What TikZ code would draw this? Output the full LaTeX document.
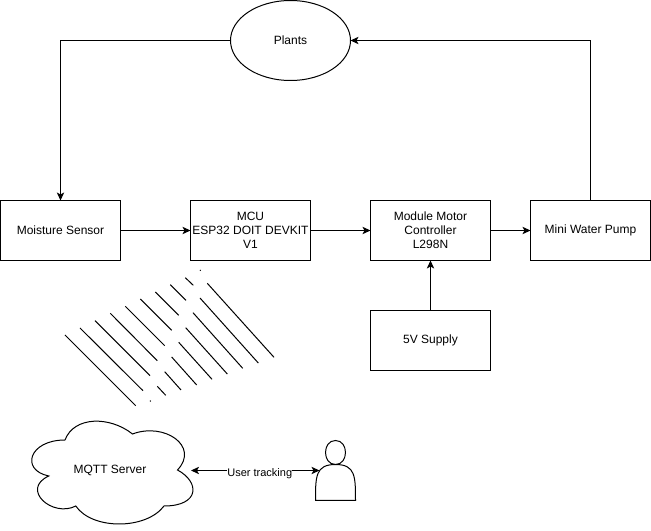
\documentclass[tikz,border=0pt]{standalone}
\usepackage{fontspec}
\setmainfont{Liberation Sans}
\usetikzlibrary{positioning,arrows.meta,shapes.geometric}

\begin{document}
\begin{tikzpicture}[x=.75pt,y=-.75pt,font=\fontsize{9}{10.5}\selectfont,line width=.75pt,
  >={Stealth[length=6pt,width=5.5pt,inset=1.5pt]},
  box/.style={draw,align=center,minimum width=90pt,minimum height=45pt,inner sep=0pt,outer sep=0pt}]
\useasboundingbox (0,0) rectangle (651,531);
\node[box] (sensor) at (60.5,230.5) {Moisture Sensor};
\node[box,right=52.5pt of sensor] (mcu) {MCU\\ESP32 DOIT DEVKIT\\V1};
\node[box,right=45pt of mcu] (module) {Module Motor\\Controller\\L298N};
\node[box,right=30pt of module] (pump) {Mini Water Pump};
\node[box,below=37.5pt of module] (supply) {5V Supply};
\node[draw,ellipse,minimum width=90pt,minimum height=60pt,inner sep=0pt,outer sep=0pt] (plants) at (290.5,40.5) {Plants};
% cloud
\draw (65,440) .. controls (29,440) and (20,470) .. (48.8,476)
  .. controls (20,489.2) and (52.4,518) .. (75.8,506)
  .. controls (92,530) and (146,530) .. (164,506)
  .. controls (200,506) and (200,482) .. (177.5,470)
  .. controls (200,446) and (164,422) .. (132.5,434)
  .. controls (110,416) and (74,416) .. (65,440) -- cycle;
\node (server) at (110,470.7) {MQTT Server};
\coordinate (serverport) at (191,470.5);
% user
\draw (315.5,500.5) .. controls (315.5,476.5) and (315.5,464.5) .. (335.5,464.5)
  .. controls (322.2,464.5) and (322.2,440.5) .. (335.5,440.5)
  .. controls (348.8,440.5) and (348.8,464.5) .. (335.5,464.5)
  .. controls (355.5,464.5) and (355.5,476.5) .. (355.5,500.5) -- cycle;
\coordinate (user) at (319.5,470.5);
% hatching
\foreach \xa/\ya/\xb/\yb in {65/335/135.7/405.7,80/328/143/390.7,95/320.7/150/375.7,110.3/313.3/157.3/360.7,
  125.3/306.3/164.7/345.7,140.3/299/171.7/330.3,155.3/292/178.7/315.3,170.3/284.7/186/300.3,185.3/277.7/193.3/285.3,
  200/270/200.7/270.7,150/400.7/150.7/401.4,157.3/386.3/165.7/395.3,164.7/371.7/181/390,171.7/357/196.7/385,
  178.7/342.3/212/379.3,185.7/327.7/227.3/374,193/312.7/242.7/368.3,200/298/258.3/363,207.3/283.3/274/357.3}
  \draw (\xa,\ya)--(\xb,\yb);
\draw[->] (plants.west) -| (sensor.north);
\draw[->] (pump.north) |- (plants.east);
\draw[->] (sensor)--(mcu);
\draw[->] (mcu)--(module);
\draw[->] (module)--(pump);
\draw[->] (supply)--(module);
\draw[<->] (serverport)--node[pos=.535,fill=white,inner sep=0pt,font=\fontsize{8.25}{10}\selectfont,yshift=-2pt]{User tracking}(user);
\end{tikzpicture}
\end{document}
